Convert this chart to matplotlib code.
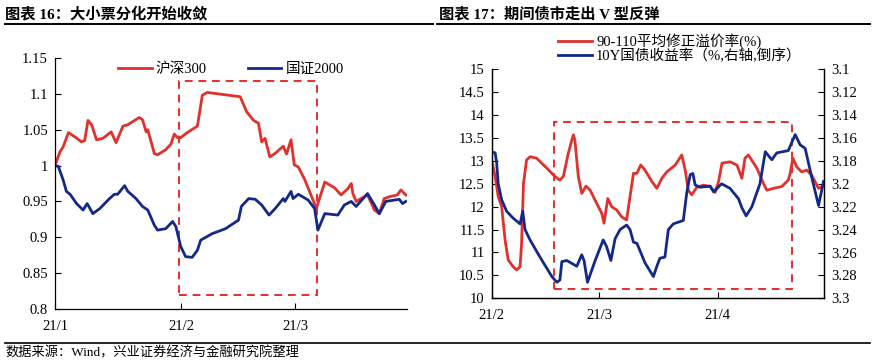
import matplotlib
matplotlib.use("Agg")
import matplotlib.pyplot as plt
from matplotlib.patches import Rectangle
from matplotlib.lines import Line2D

plt.rcParams['font.family'] = ['Liberation Serif', 'Noto Sans CJK SC']
plt.rcParams['axes.unicode_minus'] = False

RED = '#E2302D'
BLUE = '#12298A'

# ---- chart 16: 沪深300 vs 国证2000 (days after 2021-01-01) ----
hs300_day = [0, 1.2, 2, 3.3, 4.9, 6.5, 7.3, 8.1, 9, 10.2, 11.8, 13.8, 15, 16.7, 17.9,
             20.7, 21.5, 22.4, 22.8, 24.4, 25.2, 27.2, 28.5, 29.3, 30.1, 30.9, 32.5,
             35, 36.2, 37.4, 45.5, 47.1, 48.8, 50, 50.8, 51.6, 52.8, 54.1, 56.1, 56.9,
             58, 58.8, 59.8, 61.4, 63.4, 64.2, 66.3, 68.7, 70.3, 72, 72.8, 73.2, 74,
             75.2, 76.8, 78.5, 79.7, 80.9, 82.5, 84.1, 85, 86.2]
hs300 = [1.000, 1.019, 1.026, 1.046, 1.040, 1.033, 1.035, 1.063, 1.057, 1.036, 1.038,
         1.047, 1.032, 1.055, 1.057, 1.067, 1.064, 1.047, 1.050, 1.017, 1.015, 1.022,
         1.030, 1.044, 1.039, 1.039, 1.046, 1.055, 1.098, 1.102, 1.096, 1.075, 1.063,
         1.059, 1.033, 1.038, 1.012, 1.017, 1.027, 1.016, 1.036, 1.001, 0.998, 0.980,
         0.952, 0.940, 0.977, 0.969, 0.959, 0.968, 0.975, 0.961, 0.950, 0.954, 0.959,
         0.938, 0.933, 0.954, 0.957, 0.959, 0.966, 0.959]

gz2000_day = [0, 0.8, 2, 2.8, 3.7, 5.3, 6.9, 7.9, 9.3, 11, 13.4, 14.6, 15.4, 17.1, 17.9,
              19.9, 21.5, 22.8, 24.4, 25.2, 27.2, 28.9, 29.7, 30.9, 32.1, 33.7, 35,
              35.8, 38.6, 41.9, 45.1, 45.8, 47.6, 49.2, 50.8, 52.6, 54.1, 56.1, 56.5,
              58, 58.5, 59.8, 62.2, 63.8, 64.6, 66.3, 69.5, 71.1, 72.8, 74, 76.8, 78.5,
              79.7, 81.3, 84.6, 85.4, 86.2]
gz2000 = [1.000, 0.999, 0.980, 0.964, 0.960, 0.947, 0.938, 0.947, 0.933, 0.940, 0.954,
          0.960, 0.960, 0.972, 0.964, 0.954, 0.943, 0.938, 0.917, 0.910, 0.912, 0.922,
          0.915, 0.887, 0.873, 0.872, 0.882, 0.896, 0.905, 0.912, 0.924, 0.943, 0.954,
          0.953, 0.945, 0.931, 0.940, 0.954, 0.950, 0.964, 0.954, 0.960, 0.952, 0.940,
          0.910, 0.933, 0.931, 0.945, 0.950, 0.943, 0.961, 0.945, 0.933, 0.950, 0.953,
          0.947, 0.950]

left_ticks = [0, 31, 59]
left_labels = ['21/1', '21/2', '21/3']

# ---- chart 17: 溢价率 vs 10Y国债 (days after 2021-02-01) ----
premium_day = [0, 0.9, 1.7, 2.6, 3.5, 4.3, 5.6, 6.5, 7.4, 7.8, 8.3, 9.1, 10, 11.7, 14.4,
               16.5, 17.8, 18.7, 20, 21.3, 21.7, 22.6, 23.5, 24.6, 25.7, 27.4, 28.7,
               29.3, 30.3, 31.3, 32.6, 33.9, 35.2, 37, 37.9, 38.9, 40, 41.8, 43.1, 44.4,
               45.7, 47.9, 49.6, 50.5, 51.3, 52.2, 53.5, 55.2, 57, 58.3, 59.2, 60.1,
               62.2, 64, 65.3, 66.1, 67, 69.2, 70.9, 71.8, 73.5, 75.7, 77.4, 77.9, 78.6,
               79.6, 80.9, 82.2, 83.5, 85.3, 86.2]
premium = [13.02, 12.66, 12.22, 12.00, 11.27, 10.84, 10.69, 10.62, 10.69, 11.20, 12.51,
           13.02, 13.09, 13.06, 12.84, 12.66, 12.58, 12.66, 13.17, 13.57, 13.46, 12.66,
           12.29, 12.45, 12.36, 12.07, 11.86, 11.64, 12.18, 12.00, 11.93, 11.78, 11.71,
           12.73, 12.73, 12.91, 12.80, 12.55, 12.40, 12.62, 12.76, 12.91, 13.13, 12.80,
           12.36, 12.26, 12.42, 12.47, 12.44, 12.31, 12.55, 12.95, 12.98, 12.91, 12.62,
           13.06, 13.13, 12.84, 12.51, 12.36, 12.40, 12.44, 12.58, 12.73, 13.06, 12.87,
           12.76, 12.80, 12.69, 12.40, 12.44]

yield_day = [0, 0.9, 1.3, 1.7, 2.6, 3.9, 5.6, 7.4, 8.1, 8.7, 10, 12.6, 15.7, 17, 17.8,
             18.3, 19.6, 22.2, 23.5, 24.1, 25, 27, 29.1, 30, 31.1, 32.2, 33.5, 35.2,
             36.1, 37, 37.9, 40, 42.2, 43.1, 43.9, 45.2, 46.1, 47.4, 50, 50.9, 51.8,
             52.5, 53.1, 54.4, 57, 57.9, 60, 62.2, 64.4, 65.3, 66.4, 67.9, 70, 71.4,
             73.1, 74.4, 77.4, 79.2, 80.5, 81.8, 83.5, 85.3, 86.6]
yield10y = [3.172, 3.173, 3.182, 3.200, 3.214, 3.224, 3.230, 3.235, 3.224, 3.240, 3.249,
            3.264, 3.281, 3.286, 3.284, 3.268, 3.267, 3.272, 3.262, 3.267, 3.286, 3.267,
            3.249, 3.255, 3.267, 3.248, 3.240, 3.236, 3.240, 3.251, 3.252, 3.269, 3.281,
            3.272, 3.265, 3.264, 3.240, 3.235, 3.232, 3.208, 3.192, 3.191, 3.201, 3.203,
            3.202, 3.207, 3.200, 3.204, 3.213, 3.221, 3.228, 3.220, 3.200, 3.172, 3.179,
            3.173, 3.171, 3.157, 3.166, 3.169, 3.194, 3.219, 3.198]

right_ticks = [0, 28, 59]
right_labels = ['21/2', '21/3', '21/4']

fig = plt.figure(figsize=(8.75, 3.61), dpi=100)

# headers and rules
fig.text(0.006, 0.962, '图表 16：大小票分化开始收敛', fontsize=11, fontweight='bold',
         va='center', ha='left')
fig.text(0.502, 0.962, '图表 17：期间债市走出 V 型反弹', fontsize=11, fontweight='bold',
         va='center', ha='left')
fig.add_artist(Line2D([5 / 875, 433 / 875], [1 - 24 / 361] * 2, color='black', lw=1.4))
fig.add_artist(Line2D([437 / 875, 870 / 875], [1 - 24 / 361] * 2, color='black', lw=1.4))
fig.add_artist(Line2D([5 / 875, 870 / 875], [1 - 343 / 361] * 2, color='black', lw=1.2))
fig.text(0.006, 1 - 353 / 361, '数据来源：Wind，兴业证券经济与金融研究院整理',
         fontsize=9.5, va='center', ha='left')


def style_axis(ax):
    ax.tick_params(direction='in', length=4, width=0.8, labelsize=10.5, pad=5)
    for s in ax.spines.values():
        s.set_linewidth(0.9)


# ---- left ----
ax1 = fig.add_axes((55 / 875, 1 - 309 / 361, 352 / 875, 251 / 361))
ax1.plot(hs300_day, hs300, color=RED, lw=2.0, label='沪深300', solid_joinstyle='round')
ax1.plot(gz2000_day, gz2000, color=BLUE, lw=2.0, label='国证2000', solid_joinstyle='round')
ax1.add_patch(Rectangle((30.5, 0.82), 33.9, 0.298, fill=False, edgecolor=RED,
                        lw=1.4, ls=(0, (4, 3))))
ax1.set_xlim(0, 86.5)
ax1.set_ylim(0.8, 1.15)
ax1.set_yticks([0.8, 0.85, 0.9, 0.95, 1.0, 1.05, 1.1, 1.15])
ax1.set_yticklabels(['0.8', '0.85', '0.9', '0.95', '1', '1.05', '1.1', '1.15'])
ax1.set_xticks(left_ticks)
ax1.set_xticklabels(left_labels)
ax1.spines['top'].set_visible(False)
ax1.spines['right'].set_visible(False)
style_axis(ax1)
ax1.tick_params(axis='x', pad=8)
ax1.legend(loc='upper center', bbox_to_anchor=(0.5, 1.035), ncol=2, frameon=False,
           fontsize=10.5, handlelength=2.3, columnspacing=2.8, handletextpad=0.3)

# ---- right ----
ax2 = fig.add_axes((491.7 / 875, 1 - 298.3 / 361, 332.6 / 875, 229 / 361))
ax3 = ax2.twinx()
l1, = ax2.plot(premium_day, premium, color=RED, lw=2.0, solid_joinstyle='round')
l2, = ax3.plot(yield_day, yield10y, color=BLUE, lw=2.0, solid_joinstyle='round')
ax2.add_patch(Rectangle((16.3, 10.2), 62.2, 3.64, fill=False, edgecolor=RED,
                        lw=1.4, ls=(0, (4, 3))))
ax2.set_xlim(0, 86.8)
ax2.set_ylim(10, 15)
ax2.set_yticks([10, 10.5, 11, 11.5, 12, 12.5, 13, 13.5, 14, 14.5, 15])
ax2.set_yticklabels(['10', '10.5', '11', '11.5', '12', '12.5', '13', '13.5', '14',
                     '14.5', '15'])
ax3.set_ylim(3.3, 3.1)
yt = [3.1, 3.12, 3.14, 3.16, 3.18, 3.2, 3.22, 3.24, 3.26, 3.28, 3.3]
ax3.set_yticks(yt)
ax3.set_yticklabels([f'{v:g}' for v in yt])
ax2.set_xticks(right_ticks)
ax2.set_xticklabels(right_labels)
ax2.spines['top'].set_visible(False)
ax3.spines['top'].set_visible(False)
style_axis(ax2)
style_axis(ax3)
ax2.tick_params(axis='x', pad=8)
fig.legend([l1, l2], ['90-110平均修正溢价率(%)', '10Y国债收益率（%,右轴,倒序）'],
           loc='upper left', bbox_to_anchor=(545 / 875, 1 - 20 / 361), frameon=False,
           fontsize=10.5, handlelength=2.3, handletextpad=0.3, labelspacing=0.02)

fig.savefig('out.png', dpi=100)
